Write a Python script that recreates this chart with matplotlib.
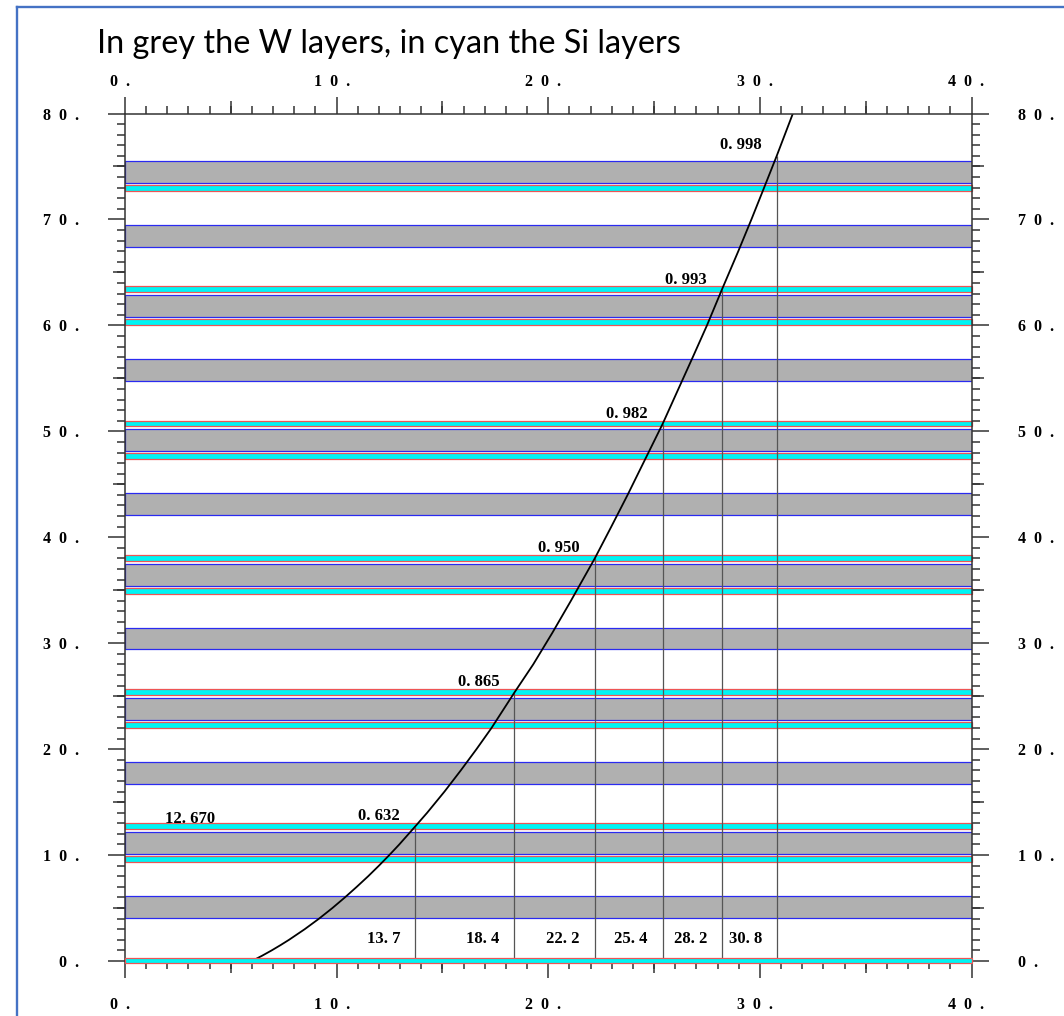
import matplotlib
matplotlib.use("Agg")
import matplotlib.pyplot as plt
from matplotlib.lines import Line2D
from matplotlib.ticker import MultipleLocator
from matplotlib.transforms import ScaledTranslation

# ---- data -------------------------------------------------------------
# Tungsten (W) absorber layers: bottom / top in depth units
w_bottom = [4.08, 10.10, 16.75, 22.77, 29.42, 35.44, 42.09, 48.11, 54.76, 60.78, 67.43, 73.45]
w_top = [6.13, 12.17, 18.80, 24.84, 31.47, 37.51, 44.14, 50.18, 56.81, 62.85, 69.48, 75.52]

# Silicon (Si) sensor layers: bottom / top
si_bottom = [-0.17, 9.33, 12.45, 22.00, 25.12, 34.67, 37.79, 47.34, 50.46, 60.01, 63.13, 72.68]
si_top = [0.28, 9.90, 13.00, 22.57, 25.67, 35.24, 38.34, 47.91, 51.01, 60.58, 63.68, 73.25]

# containment: depth, radius and contained fraction
period = 12.670
depths = [12.67, 25.34, 38.01, 50.68, 63.35, 76.02]
radii = [13.7, 18.4, 22.2, 25.4, 28.2, 30.8]
fractions = [0.632, 0.865, 0.950, 0.982, 0.993, 0.998]

# containment radius curve read along depth
curve_depth = [0, 0.5, 1, 1.5, 2, 2.5, 3, 4, 5, 6, 7, 8, 9, 10, 11, 12.67, 14, 16, 18,
               20, 22, 25.34, 28, 31, 34, 38.01, 41, 44, 47, 50.68, 54, 57, 60, 63.35,
               67, 70, 73, 76.02, 80]
curve_radius = [6.0, 6.48, 6.93, 7.35, 7.75, 8.12, 8.49, 9.17, 9.80, 10.39, 10.95, 11.49,
                12.0, 12.49, 12.96, 13.7, 14.28, 15.1, 15.87, 16.61, 17.32, 18.4, 19.29,
                20.2, 21.07, 22.2, 22.98, 23.75, 24.49, 25.4, 26.15, 26.83, 27.5, 28.2,
                28.98, 29.6, 30.2, 30.8, 31.56]

x_ticks = [0, 10, 20, 30, 40]
y_ticks = [0, 10, 20, 30, 40, 50, 60, 70, 80]


def spaced(v):
    """Tick text with a gap between each character, e.g. '1  0  .'"""
    return "  ".join(list(f"{v}."))


def dotted(s):
    return s.replace(".", ". ")


# ---- figure -----------------------------------------------------------
W, H, DPI = 1064, 1016, 100
plt.rcParams["font.family"] = ["Liberation Serif", "DejaVu Serif"]
plt.rcParams["font.weight"] = "bold"

fig = plt.figure(figsize=(W / DPI, H / DPI), dpi=DPI)
ax = fig.add_axes([125 / W, 1 - 961 / H, (971.5 - 125) / W, (961 - 113.5) / H])
ax.set_xlim(0, 40)
ax.set_ylim(0, 80)

# layers
ax.barh(w_bottom, 40, height=[t - b for b, t in zip(w_bottom, w_top)], left=0,
        align="edge", color="#b0b0b0", edgecolor="#2a2af0", linewidth=0.9, zorder=1)
si_bars = ax.barh(si_bottom, 40, height=[t - b for b, t in zip(si_bottom, si_top)], left=0,
                  align="edge", color="#00f4f4", edgecolor="#ee5555", linewidth=0.9,
                  zorder=1)
for p in si_bars:
    p.set_clip_on(False)
# the first sensor plane lies on the frame line and covers it
si_bars[0].set_zorder(6)

# radius markers and the containment curve
ax.vlines(radii, 0, depths, color="#555555", linewidth=0.9, zorder=2)
ax.plot(curve_radius, curve_depth, color="black", linewidth=1.3, zorder=3)

lab_kw = dict(fontsize=12, fontweight="bold", ha="right", va="baseline", zorder=4)
for r, d, f in zip(radii, depths, fractions):
    ax.text(r - 0.7, d + 0.6, dotted(f"{f:.3f}"), **lab_kw)
    ax.text(r - 0.7, 1.7, dotted(f"{r:.1f}"), **lab_kw)
ax.text(1.9, period + 0.33, dotted(f"{period:.3f}"), fontsize=12, fontweight="bold",
        ha="left", va="baseline", zorder=4)

# ---- axes / ticks -----------------------------------------------------
px = 72 / DPI
tick_col = "#333333"
for s in ax.spines.values():
    s.set_linewidth(1.1)
    s.set_color(tick_col)
    s.set_zorder(5)

ax.xaxis.set_minor_locator(MultipleLocator(1))
ax.yaxis.set_minor_locator(MultipleLocator(1))
ax.set_xticks(x_ticks, [spaced(v) for v in x_ticks])
ax.set_yticks(y_ticks, [spaced(v) for v in y_ticks])
ax.tick_params(which="both", direction="out", top=True, right=True,
               labeltop=True, labelright=True, color=tick_col, width=1.1)
ax.tick_params(which="major", length=17 * px, labelsize=11.5)
ax.tick_params(which="minor", length=8 * px)
ax.tick_params(axis="x", which="major", pad=13.5)
ax.tick_params(axis="y", which="major", pad=21)
shift_left = ScaledTranslation(-5 / DPI, 0, fig.dpi_scale_trans)
# top labels sit closer to the frame than the bottom ones
shift_down = ScaledTranslation(0, -12 / DPI, fig.dpi_scale_trans)
for t in ax.xaxis.get_major_ticks():
    t.label1.set_transform(t.label1.get_transform() + shift_left)
    t.label2.set_transform(t.label2.get_transform() + shift_left + shift_down)
    t.label2.set_fontweight("bold")
for t in ax.yaxis.get_major_ticks():
    t.label2.set_fontweight("bold")

# medium ticks every 5 units
for loc in ("top", "bottom"):
    sec = ax.secondary_xaxis(loc)
    sec.set_xticks([5, 15, 25, 35])
    sec.tick_params(direction="out", length=12 * px, width=1.1, color=tick_col,
                    labelbottom=False, labeltop=False)
    sec.spines[loc].set_visible(False)
for loc in ("left", "right"):
    sec = ax.secondary_yaxis(loc)
    sec.set_yticks([5, 15, 25, 35, 45, 55, 65, 75])
    sec.tick_params(direction="out", length=12 * px, width=1.1, color=tick_col,
                    labelleft=False, labelright=False)
    sec.spines[loc].set_visible(False)

# ---- title and frame --------------------------------------------------
fig.text(97 / W, 1 - 53 / H, "In grey the W layers, in cyan the Si layers",
         family=["Lato", "DejaVu Sans"], fontweight="normal", fontsize=23.3,
         ha="left", va="baseline")
blue = "#4472C4"
fig.add_artist(Line2D([17.3 / W, 17.3 / W], [0, 1 - 6.5 / H], color=blue, linewidth=1.7))
fig.add_artist(Line2D([17.3 / W, 1], [1 - 6.5 / H, 1 - 6.5 / H], color=blue, linewidth=1.7))

fig.savefig("out.png", dpi=DPI)
